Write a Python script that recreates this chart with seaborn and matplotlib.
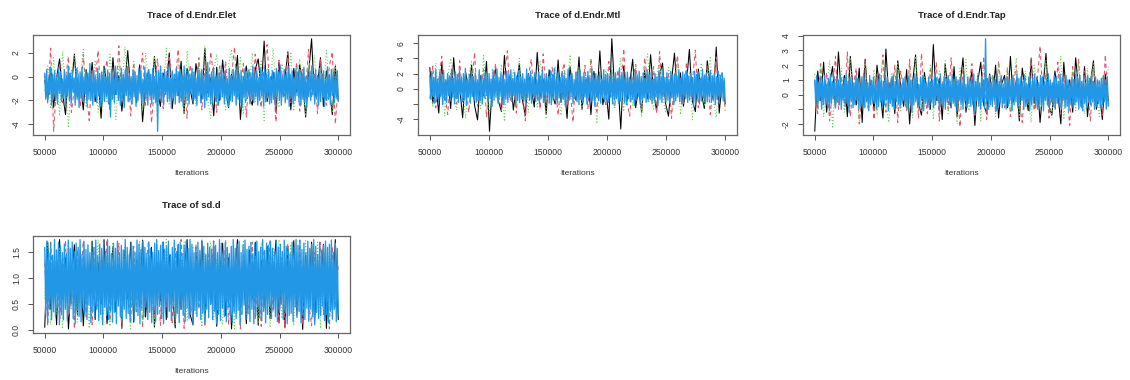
import numpy as np
import pandas as pd
import matplotlib
matplotlib.use("Agg")
import matplotlib.pyplot as plt
import seaborn as sns
from matplotlib.ticker import FuncFormatter

# ---------------- data ----------------
ITER_START, ITER_END = 50000, 300000
chain_names = ["chain1", "chain2", "chain3", "chain4"]
chain_colors = ["#000000", "#DF536B", "#61D04F", "#2297E6"]
chain_styles = ["-", (0, (4, 3)), (0, (1, 2)), "-"]
chain_widths = [0.75, 0.75, 0.75, 0.95]

param_names = ["d.Endr.Elet", "d.Endr.Mtl", "d.Endr.Tap", "sd.d"]
x_ticks = [50000, 100000, 150000, 200000, 250000, 300000]

# d.Endr.Elet
elet_c1 = [-0.3, -1.9, 0.8, -2.6, -0.1, 1.5, -1.4, -3.2, 0.4, -0.9,
           1.9, -1.7, -0.5, -2.8, 0.6, -1.2, 1.2, -2.1, -0.2, -3.5,
           0.9, -0.8, -2.4, 1.6, -1.5, 0.1, -2.9, -0.6, 2.2, -1.3,
           -0.4, -2.2, 1.0, -3.8, -0.7, 0.5, -1.8, 1.7, -1.1, -2.5,
           0.3, -0.9, 2.0, -2.7, -0.2, -1.6, 1.3, -3.1, 0.7, -1.0,
           -2.3, 1.1, -0.5, -1.9, 2.4, -1.4, -0.1, -3.3, 0.8, -2.0,
           1.4, -1.2, -2.6, 0.2, -0.8, 1.8, -3.6, -0.3, 0.9, -1.7,
           -2.4, 0.6, 1.5, -1.1, 3.0, -2.1, -0.6, 0.4, -3.0, 1.2,
           -1.5, -0.2, 2.1, -2.8, 0.7, -1.3, 1.0, -0.4, -3.4, 0.3,
           3.2, -1.8, -0.7, 1.6, -2.5, 0.5, -1.1, -3.2, 0.9, -2.0]
elet_c2 = [0.2, -1.5, 2.4, -4.6, -0.6, 1.1, -2.2, -0.1, 1.7, -3.0,
           -0.9, 0.8, -2.5, 1.9, -1.3, -3.7, 0.5, -0.4, 2.2, -1.8,
           -0.2, 1.4, -2.9, 0.3, -1.1, 2.6, -2.0, -0.7, 0.9, -3.3,
           1.2, -1.6, -0.3, 2.0, -2.4, 0.6, -3.9, -0.8, 1.5, -1.4,
           -2.7, 0.4, 1.8, -1.0, -0.5, 2.3, -2.1, 0.1, -3.5, 1.0,
           -0.6, -1.9, 1.6, -2.8, 0.7, -1.2, 2.1, -0.2, -3.0, 0.9,
           -1.5, 1.3, -2.3, 0.0, 2.5, -1.7, -0.9, 1.1, -3.4, 0.5,
           -2.0, 1.9, -0.7, -2.6, 0.8, 2.7, -1.3, -0.1, -3.8, 1.4,
           0.3, -1.6, 2.0, -2.2, -0.4, 1.2, -2.9, 0.6, -1.0, 2.3,
           -1.8, 0.2, -3.1, 1.5, -0.6, -2.4, 0.9, 2.1, -4.0, -0.8]
elet_c3 = [-1.2, 0.9, -2.7, 1.6, -0.4, -3.3, 2.1, -0.9, -4.3, 0.5,
           1.8, -1.5, -0.2, 2.3, -2.6, 0.4, -1.1, 1.4, -3.0, -0.6,
           0.7, -2.2, 1.9, -0.8, -3.6, 1.1, -1.4, 2.5, -0.3, -2.0,
           1.3, -1.7, 0.2, -2.9, 2.0, -0.5, -1.2, 1.7, -3.4, 0.8,
           -0.9, 2.4, -2.3, 0.3, -1.6, 1.5, -0.1, -3.1, 2.2, -1.0,
           0.6, -2.5, 1.2, -0.7, 2.6, -1.9, -3.5, 0.4, 1.9, -1.3,
           -0.2, -2.8, 1.0, 2.3, -1.5, -0.4, 1.6, -3.2, 0.5, -1.1,
           2.0, -2.1, -0.6, 1.3, -3.7, 0.7, -1.4, 2.4, -0.9, -2.6,
           1.1, -0.3, -1.8, 2.1, -2.9, 0.2, 1.5, -1.2, -3.3, 0.9,
           -0.5, 1.8, -2.4, 0.6, -1.7, 2.2, -0.8, -3.0, 1.0, -1.5]
elet_c4 = [0.3, -1.9, 0.6, -2.2, -0.1, -1.5, 0.8, -2.4, 0.2, -1.7,
           0.5, -2.0, 0.0, -2.3, 0.7, -1.4, 0.4, -2.1, -0.2, -1.8,
           0.6, -2.5, 0.1, -1.6, 0.9, -2.0, 0.3, -2.2, 0.5, -1.3,
           -0.1, -2.4, 0.7, -1.9, 0.2, -2.6, 0.4, -1.7, 0.8, -2.1,
           0.0, -1.5, 0.6, -2.3, 0.3, -1.9, 1.1, -2.0, 0.1, -2.4,
           0.5, -1.8, -0.2, -2.2, 0.7, -1.6, 0.2, -2.5, 0.4, -2.0,
           0.8, -2.1, 0.0, -1.7, 0.5, -2.3, 0.3, -3.4, 0.6, -1.9,
           0.1, -2.2, 0.9, -1.5, 0.4, -2.0, -0.1, -2.4, 0.7, -1.8,
           0.2, -2.6, 0.5, -1.6, 0.8, -2.1, 0.3, -1.9, 0.0, -2.3,
           0.6, -1.7, 0.4, -2.5, 0.1, -2.0, 0.7, -1.4, 0.5, -2.2,
           -0.2, -2.1, 0.8, -1.8, 0.3, -2.4, 0.6, -1.6, 0.2, -2.3,
           0.7, -1.9, 0.0, -2.2, 0.5, -4.6, 0.4, -1.7, 0.9, -2.0,
           0.3, -2.4, 0.6, -1.5, 0.1, -2.1, 0.8, -1.9, -0.1, -2.6,
           0.5, -1.8, 0.2, -2.3, 0.7, -1.6, 0.4, -2.2, 0.6, -2.0,
           0.0, -2.5, 0.9, -1.7, 0.3, -2.0, 0.5, -2.3, 0.2, -1.4,
           0.7, -2.1, 0.4, -1.9, -0.1, -2.4, 0.8, -1.6, 0.3, -2.2,
           0.6, -1.8, 0.1, -2.6, 0.5, -2.0, 1.2, -1.7, 0.2, -2.3,
           0.4, -2.2, 0.8, -1.5, 0.0, -2.1, 0.6, -2.4, 0.3, -1.9,
           0.9, -1.7, 0.2, -2.3, 0.5, -1.8, -0.2, -2.5, 0.7, -2.0,
           0.1, -2.1, 0.6, -1.6, 0.4, -2.4, 0.8, -1.9, 0.3, -2.2,
           0.5, -2.6, 0.0, -1.8, 0.7, -2.0, 0.2, -1.5, 0.6, -2.3,
           0.3, -1.9, 0.9, -2.2, 0.1, -1.7, 0.5, -2.4, -0.1, -2.0,
           0.7, -1.6, 0.4, -2.5, 0.8, -2.1, 0.2, -1.8, 0.6, -2.3,
           0.0, -2.2, 0.5, -1.9, 0.3, -2.6, 0.7, -1.4, 0.4, -2.0,
           0.9, -2.4, 0.1, -1.7, 0.6, -2.2, 0.3, -1.9, 0.8, -2.5,
           0.2, -1.8, 0.5, -2.3, -0.1, -2.0, 0.7, -1.6, 0.4, -2.1,
           0.6, -2.4, 0.3, -1.9, 0.8, -2.2, 0.0, -2.6, 0.5, -1.7,
           0.4, -2.0, 0.9, -1.5, 0.2, -2.3, 0.6, -1.8, 0.1, -2.4,
           0.7, -2.1, 0.3, -1.7, 0.5, -2.5, -0.2, -2.0, 0.8, -1.9,
           0.2, -2.3, 0.6, -1.6, 0.4, -2.2, 0.0, -1.8, 0.5, -2.1]

# d.Endr.Mtl
mtl_c1 = [2.8, -1.9, 0.6, -3.2, 3.5, -0.8, 1.4, -2.6, 4.1, -1.2,
          0.3, -3.8, 2.2, -0.5, 3.1, -2.2, -4.1, 1.7, -0.9, 3.6,
          -5.6, 0.9, 2.6, -1.6, -3.0, 4.4, -0.3, 1.9, -2.8, 0.4,
          3.3, -1.4, -3.5, 2.0, 0.1, -2.4, 4.8, -1.0, 1.2, -3.3,
          2.5, -0.7, -2.0, 3.8, -1.8, 0.8, -3.9, 2.9, -0.2, -1.5,
          4.2, -2.7, 0.5, 1.6, -3.4, 2.3, -1.1, 5.0, -2.1, 0.0,
          -4.0, 6.6, -0.6, 1.3, -5.3, 3.0, -1.7, 0.7, 3.9, -2.5,
          0.2, -3.1, 2.4, -1.3, 4.5, -0.4, -2.9, 1.8, 3.4, -1.9,
          -3.6, 1.0, 4.7, -0.9, 2.1, -2.3, 0.6, 5.2, -1.6, -3.0,
          2.6, -0.5, -2.6, 3.7, 0.3, -1.4, 5.5, -3.2, 1.1, -2.0]
mtl_c2 = [-1.3, 3.0, -2.5, 1.1, 4.3, -0.6, -3.4, 2.0, 0.4, -2.0,
          3.7, -1.0, 1.5, -3.1, 0.2, 4.8, -2.3, -0.4, 2.6, -3.7,
          1.2, -1.8, 3.3, -0.7, -2.9, 2.1, 5.0, -1.5, 0.6, -3.2,
          2.4, -0.2, -4.2, 1.6, 3.9, -1.2, 0.3, -2.7, 4.6, -0.8,
          -1.9, 2.8, 0.5, -3.5, 1.4, 3.4, -2.2, 0.0, -4.4, 2.2,
          1.0, -1.4, 3.1, -2.6, 4.0, -0.3, -3.0, 1.8, 0.7, -2.1,
          3.6, -0.9, -2.4, 2.5, 0.1, 5.3, -1.7, -3.6, 1.3, 3.2,
          -0.5, -2.8, 4.1, 0.8, -1.6, 2.9, -3.3, 4.9, -1.1, 0.4,
          2.0, -3.9, 1.2, 4.4, -0.7, -2.2, 3.5, -1.3, 0.9, 5.1,
          -2.5, 1.7, -0.4, 3.0, -3.4, 0.6, 4.2, -1.8, 2.3, -2.9]
mtl_c3 = [0.8, -2.4, 3.4, -1.1, 2.0, -3.6, 1.5, 4.0, -0.6, -2.8,
          2.3, -0.3, -3.9, 1.8, 3.6, -1.5, 0.5, -2.6, 4.4, -0.9,
          -3.3, 2.7, 0.0, -1.9, 3.2, -4.3, 1.3, -0.5, 2.5, -2.1,
          4.2, -1.3, 0.9, -3.1, 2.1, -0.2, -2.4, 3.7, 0.6, -4.0,
          1.6, -1.7, 3.0, -0.8, -3.5, 2.4, 0.3, 4.5, -2.0, -0.4,
          2.9, -2.9, 1.1, -1.2, 3.8, 0.2, -4.6, 1.9, -0.7, 2.6,
          -1.6, 3.3, -2.5, 0.7, 4.1, -3.0, 1.4, -0.1, -2.2, 3.1,
          0.5, -3.7, 2.2, 4.6, -1.0, -2.7, 1.7, 3.5, -0.6, -3.2,
          2.8, 0.1, -1.9, 3.9, -3.4, 1.0, -0.8, 2.3, -4.1, 1.6,
          -0.3, 3.4, -2.3, 0.9, 4.3, -1.4, -3.8, 2.0, 0.4, -2.6]
mtl_c4 = [1.8, -1.4, 2.3, -0.9, 1.5, -1.9, 2.5, -1.2, 1.3, -1.7,
          2.1, -1.0, 1.6, -2.1, 2.4, -1.5, 1.2, -1.8, 2.0, -0.9,
          1.7, -1.6, 2.6, -1.1, 1.4, -2.0, 2.2, -1.3, 1.9, -1.8,
          2.4, -0.8, 1.5, -1.7, 2.0, -1.4, 2.7, -2.2, 1.3, -1.1,
          1.9, -1.9, 2.3, -1.0, 1.6, -1.5, 2.1, -1.8, 1.2, -1.3,
          2.5, -1.6, 1.8, -2.0, 1.4, -1.2, 2.2, -0.9, 1.7, -1.7,
          2.0, -1.3, 1.3, -2.3, 2.4, -1.5, 1.6, -1.1, 2.6, -1.9,
          1.5, -1.0, 2.1, -1.6, 1.8, -2.1, 1.2, -1.4, 2.3, -1.8,
          1.9, -1.2, 2.5, -1.7, 1.4, -0.9, 2.2, -2.0, 1.7, -1.5,
          2.4, -1.8, 1.6, -1.3, 2.0, -1.6, 1.3, -2.2, 2.6, -1.1,
          1.8, -1.5, 2.3, -1.9, 1.5, -1.0, 2.1, -1.7, 1.2, -1.4,
          2.2, -2.0, 1.7, -1.2, 2.5, -1.8, 1.4, -1.5, 2.0, -0.9,
          1.6, -1.7, 2.4, -2.1, 1.9, -1.3, 2.7, -1.6, 1.3, -1.9,
          2.1, -1.1, 1.5, -1.8, 2.3, -1.4, 1.8, -2.2, 1.4, -1.6,
          2.6, -1.5, 1.7, -1.0, 2.0, -1.9, 1.2, -1.3, 2.2, -1.7,
          1.9, -2.1, 2.4, -1.4, 1.6, -1.8, 2.1, -1.1, 1.5, -2.0,
          2.3, -1.2, 1.4, -1.7, 2.6, -1.5, 1.8, -2.3, 2.0, -1.0,
          1.7, -1.6, 2.2, -1.9, 1.3, -1.2, 2.5, -1.7, 1.9, -1.4,
          2.0, -1.8, 1.6, -1.1, 2.4, -2.0, 1.5, -1.5, 2.1, -1.3,
          1.4, -1.9, 2.7, -1.6, 1.8, -1.0, 2.3, -1.8, 1.6, -2.1,
          2.2, -1.3, 1.5, -1.7, 2.0, -1.4, 1.2, -2.2, 2.5, -1.5,
          1.8, -1.0, 2.3, -2.0, 1.6, -1.6, 2.1, -1.2, 1.4, -1.8,
          2.5, -1.7, 1.9, -1.3, 2.2, -1.9, 1.3, -1.5, 2.0, -1.1,
          1.6, -2.2, 2.4, -1.4, 1.7, -1.8, 2.6, -1.0, 1.5, -1.7,
          2.1, -1.5, 1.3, -1.9, 2.3, -1.2, 1.8, -2.1, 2.0, -1.6,
          1.7, -1.1, 2.5, -1.7, 1.4, -2.0, 2.2, -1.4, 1.9, -1.3,
          2.4, -1.8, 1.6, -1.5, 2.0, -1.0, 1.5, -2.3, 2.3, -1.7,
          1.9, -1.3, 2.2, -2.0, 1.3, -1.6, 2.6, -1.2, 1.8, -1.9,
          2.1, -1.7, 1.5, -1.1, 2.4, -1.8, 1.7, -1.5, 2.0, -2.1,
          1.6, -1.4, 2.3, -1.9, 1.8, -1.2, 2.1, -1.6, 1.4, -1.8]

# d.Endr.Tap
tap_c1 = [-2.5, 1.6, -0.4, 2.2, -1.2, 0.7, 1.9, -0.9, 2.9, -0.2,
          1.3, -1.5, 2.6, 0.1, -0.7, 1.8, -1.9, 2.4, -0.5, 0.9,
          -1.1, 2.0, 0.3, -1.6, 3.1, -0.3, 1.2, -1.3, 2.3, 0.5,
          -0.8, 1.7, -2.0, 0.8, 2.7, -0.6, -1.4, 1.5, 0.0, -1.0,
          3.4, -0.4, 1.1, -1.7, 2.1, 0.2, -0.9, 1.9, -1.5, 0.6,
          2.5, -1.2, 0.4, 1.6, -2.1, 0.9, 2.2, -0.7, -1.3, 1.4,
          -0.2, 2.0, -1.6, 0.7, 1.3, -0.9, 2.6, -0.5, 1.0, -1.8,
          1.8, 0.3, -1.1, 2.4, -0.6, 1.2, -1.9, 0.5, 2.8, -0.8,
          -1.4, 1.6, 0.1, -2.0, 2.2, -0.3, 1.0, -1.2, 2.5, 0.4,
          -0.7, 1.9, -1.5, 0.8, 2.3, -1.0, 0.2, -1.7, 1.4, -0.4]
tap_c2 = [0.9, -1.3, 2.1, -0.5, 1.5, -1.8, 0.4, 2.6, -1.0, 1.2,
          -0.7, 2.9, -1.5, 0.6, 1.8, -2.0, 0.2, 2.3, -0.9, 1.0,
          -1.7, 1.4, 0.0, 2.7, -1.2, 0.8, -0.4, 2.0, -1.9, 1.6,
          0.3, -1.1, 2.4, -0.6, 1.1, -1.6, 2.8, 0.1, -1.3, 1.7,
          -0.2, 2.2, -1.8, 0.7, 1.4, -1.0, 2.5, -0.5, 0.9, -2.2,
          1.9, -0.8, 0.5, 2.1, -1.4, 1.0, -0.3, 2.6, -1.7, 0.4,
          1.3, -1.2, 2.3, 0.2, -0.9, 1.8, -1.5, 0.6, 2.0, -0.6,
          -1.9, 1.1, 0.3, 2.5, -1.1, 0.8, 3.3, -0.4, 1.5, -1.6,
          0.7, -0.9, 2.2, -1.3, 1.2, 0.0, -2.1, 1.9, -0.5, 2.4,
          -1.0, 1.6, 0.4, -1.8, 2.0, -0.2, 1.0, -1.4, 2.7, -0.7]
tap_c3 = [1.4, -0.9, 2.0, -1.5, 0.6, 2.3, -2.3, 1.1, -0.4, 1.8,
          -1.2, 0.5, 2.5, -0.7, 1.3, -1.8, 0.9, 2.1, -1.0, 0.2,
          1.7, -1.4, 0.8, 2.4, -0.5, -1.9, 1.5, 0.3, 2.2, -1.1,
          0.6, -0.8, 1.9, -1.6, 2.6, 0.1, -1.2, 1.2, -0.3, 2.0,
          -1.7, 0.9, 1.6, -0.6, 2.3, -1.3, 0.4, 1.0, -2.0, 1.8,
          0.2, 2.4, -1.1, 0.7, -0.4, 1.5, -1.8, 2.1, 0.5, -0.9,
          1.3, -1.5, 2.2, 0.0, -0.7, 1.9, -1.2, 0.8, 2.5, -1.6,
          0.4, 1.6, -0.5, -1.9, 2.0, 0.6, -1.0, 1.4, 2.3, -0.8,
          -1.4, 1.1, 0.3, 2.6, -1.7, 0.9, -0.2, 1.7, -1.1, 2.2,
          0.5, -1.3, 1.8, -0.6, 2.1, 0.1, -1.5, 1.2, -0.4, 1.9]
tap_c4 = [1.0, -0.6, 1.3, -0.9, 0.8, -0.4, 1.2, -1.0, 0.9, -0.7,
          1.3, -0.5, 0.7, -0.8, 1.1, -1.1, 1.4, -0.6, 0.9, -0.3,
          1.2, -0.9, 0.8, -0.5, 1.0, -0.7, 1.3, -1.0, 0.7, -0.4,
          1.1, -0.8, 1.4, -0.6, 0.9, -1.2, 1.2, -0.5, 1.0, -0.9,
          0.8, -0.7, 1.3, -0.4, 1.1, -1.0, 0.7, -0.8, 1.2, -0.6,
          1.4, -0.9, 1.0, -0.5, 0.8, -1.1, 1.3, -0.7, 0.9, -0.4,
          1.2, -0.6, 0.7, -1.0, 1.1, -0.8, 1.4, -0.5, 1.0, -0.9,
          0.9, -0.7, 1.3, -0.4, 1.2, -1.1, 0.8, -0.6, 1.1, -0.8,
          1.3, -1.0, 0.9, -0.5, 1.4, -0.7, 1.0, -0.9, 0.7, -0.6,
          1.1, -0.4, 1.2, -0.8, 0.8, -1.0, 1.3, -0.6, 1.0, -1.2,
          0.9, -0.7, 1.4, -0.5, 1.1, -0.9, 0.7, -0.8, 1.2, -0.4,
          1.3, -1.1, 1.0, -0.6, 0.8, -0.8, 1.2, -1.0, 0.9, -0.5,
          1.0, -0.9, 1.3, -0.7, 1.1, -0.4, 0.8, -1.1, 1.4, -0.6,
          0.7, -0.8, 1.2, -1.0, 1.0, -0.5, 1.3, -0.7, 0.9, -0.9,
          1.4, -0.6, 0.8, -0.8, 1.2, -1.1, 1.0, -0.4, 1.1, -0.7,
          0.9, -1.0, 1.3, -0.5, 0.7, -0.9, 1.2, -0.6, 1.0, -0.8,
          1.1, -0.7, 1.4, -1.2, 0.9, -0.4, 1.3, -0.8, 0.8, -1.0,
          1.2, -0.5, 1.0, -0.9, 3.8, -0.6, 1.1, -1.0, 1.3, -0.7,
          0.8, -0.8, 1.2, -0.4, 1.0, -1.1, 1.4, -0.7, 0.9, -0.5,
          1.3, -0.9, 0.7, -0.6, 1.1, -1.0, 1.2, -0.8, 1.0, -0.4,
          1.0, -1.1, 1.3, -0.7, 0.8, -0.5, 1.4, -0.9, 1.1, -0.6,
          1.2, -0.4, 0.9, -1.0, 1.3, -0.8, 0.7, -0.6, 1.2, -1.1,
          0.9, -0.7, 1.1, -0.5, 1.4, -0.9, 1.0, -1.0, 0.8, -0.6,
          1.3, -0.8, 1.2, -1.1, 0.9, -0.4, 1.1, -0.7, 1.4, -0.9,
          1.0, -0.5, 0.8, -0.8, 1.3, -1.0, 1.2, -0.6, 0.9, -0.7,
          1.4, -1.0, 1.1, -0.4, 0.7, -0.9, 1.3, -0.8, 1.0, -1.1,
          0.8, -0.6, 1.2, -0.9, 1.0, -0.7, 1.4, -0.5, 1.1, -1.0,
          1.3, -0.8, 0.9, -1.1, 1.2, -0.6, 0.8, -0.9, 1.3, -0.4,
          1.1, -0.7, 1.4, -0.5, 0.9, -1.0, 1.2, -0.8, 1.0, -0.6,
          0.9, -0.9, 1.1, -0.7, 1.3, -0.5, 1.0, -1.0, 1.2, -0.8]

# sd.d
sd_c1 = [0.05, 1.7, 0.4, 1.2, 0.1, 1.75, 0.6, 1.4, 0.02, 1.0,
         1.65, 0.3, 1.5, 0.08, 1.1, 0.7, 1.72, 0.2, 1.3, 0.5,
         1.75, 0.12, 0.9, 1.6, 0.35, 1.2, 0.03, 1.55, 0.6, 1.7,
         0.15, 1.35, 0.45, 1.74, 0.25, 1.0, 1.6, 0.06, 1.25, 0.55,
         1.7, 0.2, 1.45, 0.8, 0.04, 1.65, 0.4, 1.15, 1.75, 0.3,
         0.1, 1.5, 0.65, 1.72, 0.18, 1.3, 0.5, 1.6, 0.07, 1.05,
         1.68, 0.28, 1.4, 0.02, 0.95, 1.75, 0.38, 1.2, 0.12, 1.55,
         0.6, 1.7, 0.09, 1.35, 0.45, 1.62, 0.22, 1.0, 1.74, 0.15,
         1.25, 0.05, 1.58, 0.7, 1.73, 0.3, 1.1, 0.01, 1.45, 0.5,
         1.7, 0.14, 1.3, 0.6, 1.66, 0.03, 1.2, 0.4, 1.75, 0.2]
sd_c2 = [1.3, 0.08, 1.7, 0.5, 1.45, 0.15, 1.0, 1.74, 0.3, 1.2,
         0.02, 1.55, 0.7, 1.72, 0.25, 1.1, 0.1, 1.6, 0.45, 1.35,
         0.9, 1.75, 0.18, 1.25, 0.55, 1.68, 0.05, 1.4, 0.8, 0.12,
         1.62, 0.35, 1.5, 0.04, 1.15, 1.73, 0.6, 0.2, 1.3, 0.09,
         1.7, 0.45, 1.05, 0.14, 1.58, 0.75, 1.75, 0.03, 1.2, 0.5,
         0.22, 1.66, 0.4, 1.35, 0.06, 1.5, 0.95, 1.72, 0.16, 1.1,
         0.65, 1.74, 0.1, 1.25, 0.5, 1.6, 0.02, 1.45, 0.85, 0.3,
         1.7, 0.2, 1.15, 0.07, 1.55, 0.6, 1.75, 0.35, 1.0, 0.13,
         1.4, 0.04, 1.68, 0.7, 1.2, 0.25, 1.73, 0.1, 1.3, 0.55,
         0.08, 1.5, 0.9, 1.7, 0.3, 1.1, 0.02, 1.62, 0.45, 1.25]
sd_c3 = [0.6, 1.74, 0.1, 1.35, 0.3, 1.6, 0.05, 1.15, 1.7, 0.4,
         1.25, 0.15, 1.65, 0.55, 1.0, 0.03, 1.5, 0.8, 1.75, 0.2,
         0.35, 1.45, 0.07, 1.7, 0.6, 1.2, 0.18, 1.6, 0.9, 0.02,
         1.55, 0.45, 1.73, 0.12, 1.3, 0.7, 1.1, 0.04, 1.66, 0.5,
         0.25, 1.75, 0.85, 1.4, 0.09, 1.2, 0.55, 1.7, 0.16, 1.05,
         1.62, 0.3, 1.0, 0.06, 1.5, 0.75, 1.72, 0.2, 1.35, 0.4,
         0.1, 1.68, 0.5, 1.25, 0.02, 1.55, 0.95, 1.74, 0.28, 1.15,
         0.65, 1.45, 0.13, 1.7, 0.4, 1.1, 0.05, 1.6, 0.8, 1.75,
         0.22, 1.3, 0.6, 1.66, 0.08, 1.5, 0.35, 1.2, 1.73, 0.15,
         1.0, 0.45, 1.7, 0.03, 1.4, 0.7, 1.58, 0.18, 1.25, 0.5]
sd_c4 = [1.6, 0.3, 1.72, 0.15, 1.5, 0.4, 1.68, 0.2, 1.45, 0.35,
         1.75, 0.25, 1.55, 0.45, 1.7, 0.1, 1.62, 0.3, 1.5, 0.2,
         1.66, 0.4, 1.48, 0.18, 1.74, 0.32, 1.58, 0.5, 1.7, 0.22,
         1.52, 0.12, 1.68, 0.38, 1.6, 0.26, 1.75, 0.16, 1.46, 0.42,
         1.72, 0.3, 1.56, 0.2, 1.65, 0.48, 1.5, 0.14, 1.7, 0.36,
         1.6, 0.24, 1.74, 0.4, 1.44, 0.18, 1.66, 0.3, 1.58, 0.1,
         1.7, 0.44, 1.52, 0.28, 1.75, 0.2, 1.62, 0.38, 1.48, 0.15,
         1.68, 0.34, 1.58, 0.12, 1.72, 0.46, 1.5, 0.26, 1.64, 0.2,
         1.55, 0.4, 1.75, 0.22, 1.6, 0.32, 1.46, 0.16, 1.7, 0.5,
         1.62, 0.18, 1.5, 0.36, 1.74, 0.28, 1.66, 0.12, 1.56, 0.42,
         1.72, 0.26, 1.6, 0.44, 1.48, 0.2, 1.7, 0.34, 1.58, 0.14,
         1.5, 0.38, 1.68, 0.16, 1.75, 0.3, 1.54, 0.48, 1.64, 0.22,
         1.7, 0.12, 1.56, 0.4, 1.62, 0.24, 1.72, 0.36, 1.46, 0.18,
         1.6, 0.46, 1.74, 0.2, 1.52, 0.32, 1.66, 0.14, 1.7, 0.4,
         1.48, 0.28, 1.64, 0.16, 1.72, 0.42, 1.58, 0.22, 1.75, 0.34,
         1.66, 0.1, 1.5, 0.38, 1.6, 0.26, 1.7, 0.46, 1.54, 0.2,
         1.74, 0.32, 1.62, 0.14, 1.46, 0.4, 1.68, 0.24, 1.6, 0.5,
         1.56, 0.2, 1.72, 0.36, 1.64, 0.12, 1.5, 0.3, 1.75, 0.18,
         1.68, 0.42, 1.54, 0.26, 1.7, 0.16, 1.6, 0.44, 1.48, 0.28,
         1.62, 0.14, 1.75, 0.34, 1.58, 0.22, 1.66, 0.38, 1.72, 0.1,
         1.5, 0.3, 1.64, 0.48, 1.74, 0.2, 1.56, 0.32, 1.62, 0.16,
         1.7, 0.4, 1.48, 0.12, 1.66, 0.28, 1.72, 0.44, 1.52, 0.24,
         1.6, 0.18, 1.75, 0.36, 1.54, 0.14, 1.68, 0.3, 1.64, 0.46,
         1.72, 0.22, 1.58, 0.4, 1.46, 0.26, 1.7, 0.16, 1.6, 0.34,
         1.66, 0.5, 1.52, 0.2, 1.74, 0.38, 1.62, 0.12, 1.56, 0.28,
         1.48, 0.32, 1.7, 0.16, 1.6, 0.44, 1.75, 0.24, 1.64, 0.36,
         1.74, 0.14, 1.56, 0.3, 1.68, 0.2, 1.5, 0.42, 1.72, 0.18,
         1.58, 0.4, 1.66, 0.26, 1.75, 0.1, 1.62, 0.34, 1.46, 0.22,
         1.7, 0.28, 1.54, 0.46, 1.64, 0.18, 1.72, 0.3, 1.6, 0.14,
         1.66, 0.36, 1.74, 0.22, 1.5, 0.4, 1.68, 0.16, 1.58, 0.32]

panel_chains = [
    [elet_c1, elet_c2, elet_c3, elet_c4],
    [mtl_c1, mtl_c2, mtl_c3, mtl_c4],
    [tap_c1, tap_c2, tap_c3, tap_c4],
    [sd_c1, sd_c2, sd_c3, sd_c4],
]
y_ticks = [[-4, -2, 0, 2], [-4, -2, 0, 2, 4, 6], [-2, -1, 0, 1, 2, 3, 4], [0.0, 0.5, 1.0, 1.5]]
y_ticklabels = [["-4", "-2", "0", "2"], ["-4", "", "0", "2", "4", "6"],
                ["-2", "", "0", "1", "2", "3", "4"], ["0.0", "0.5", "1.0", "1.5"]]

# ---------------- layout ----------------
W, H = 1130, 380
sns.set_theme(style="white")
plt.rcParams["font.family"] = ["Liberation Sans", "DejaVu Sans"]

fig = plt.figure(figsize=(W / 100, H / 100), dpi=100)
fig.patch.set_facecolor("white")

# axes boxes in pixels: left, right, top, bottom
boxes = [(33, 350, 35, 135), (418, 737, 35, 135), (803, 1120, 35, 135), (33, 350, 236, 333)]
title_pads = [12, 12, 12, 20]

for i, name in enumerate(param_names):
    l, r, t, b = boxes[i]
    ax = fig.add_axes([l / W, (H - b) / H, (r - l) / W, (b - t) / H])
    all_vals = []
    for cname, vals, col, ls, lw in zip(chain_names, panel_chains[i], chain_colors,
                                        chain_styles, chain_widths):
        df = pd.DataFrame({
            "iteration": np.linspace(ITER_START, ITER_END, len(vals)),
            "value": vals,
        })
        sns.lineplot(data=df, x="iteration", y="value", color=col, linestyle=ls,
                     linewidth=lw, estimator=None, sort=False, legend=False, ax=ax)
        all_vals.extend(vals)
    # R-style 4% padding
    xr = ITER_END - ITER_START
    ax.set_xlim(ITER_START - 0.04 * xr, ITER_END + 0.04 * xr)
    vmin, vmax = min(all_vals), max(all_vals)
    yr = vmax - vmin
    ax.set_ylim(vmin - 0.04 * yr, vmax + 0.04 * yr)

    ax.set_xticks(x_ticks)
    ax.xaxis.set_major_formatter(FuncFormatter(lambda v, p: f"{v:.0f}"))
    ax.set_yticks(y_ticks[i])
    ax.set_yticklabels(y_ticklabels[i], rotation=90, va="center", ha="right")
    ax.tick_params(axis="both", which="major", direction="out", length=3.6, width=0.7,
                   color="#555555", labelsize=6.2, labelcolor="#333333",
                   bottom=True, left=True)
    ax.tick_params(axis="x", pad=6)
    ax.tick_params(axis="y", pad=5)
    for sp in ax.spines.values():
        sp.set_visible(True)
        sp.set_color("#666666")
        sp.set_linewidth(0.9)
    ax.set_xlabel("Iterations", fontsize=6, color="#333333", labelpad=9)
    ax.set_ylabel("")
    ax.set_title(f"Trace of {name}", fontsize=6.8, fontweight="bold", color="#222222",
                 pad=title_pads[i])

fig.savefig("out.png", dpi=100, facecolor="white")
